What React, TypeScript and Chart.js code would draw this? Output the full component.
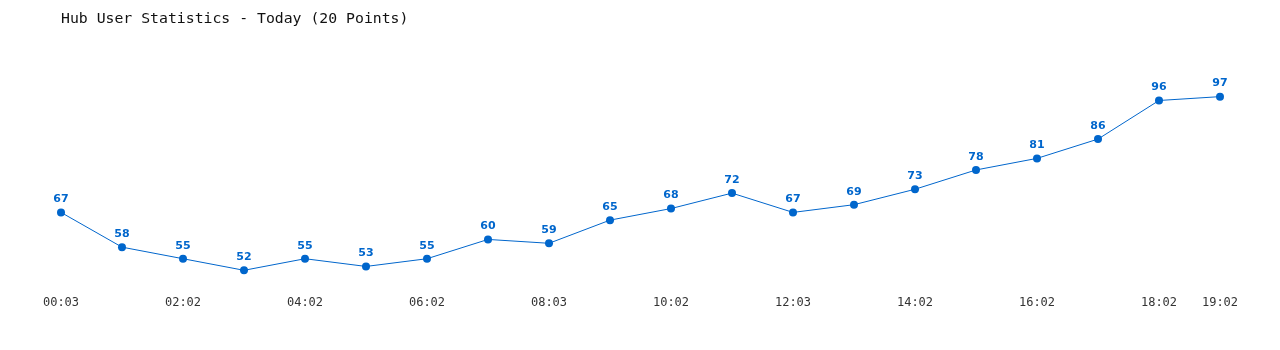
import React, { useEffect, useRef } from "react";
import { Chart, registerables } from "chart.js";

Chart.register(...registerables);

const categories = [
  "00:03", "01:02", "02:02", "03:02", "04:02", "05:02", "06:02", "07:02", "08:03", "09:02",
  "10:02", "11:02", "12:03", "13:02", "14:02", "15:02", "16:02", "17:02", "18:02", "19:02",
];
const users = [67, 58, 55, 52, 55, 53, 55, 60, 59, 65, 68, 72, 67, 69, 73, 78, 81, 86, 96, 97];
const shownTickIndexes = [0, 2, 4, 6, 8, 10, 12, 14, 16, 18, 19];

const BLUE = "#0066cc";

const valueLabels = {
  id: "valueLabels",
  afterDatasetsDraw(chart: any) {
    const ctx = chart.ctx;
    const meta = chart.getDatasetMeta(0);
    ctx.save();
    ctx.font = "bold 11px 'DejaVu Sans'";
    ctx.fillStyle = BLUE;
    ctx.textAlign = "center";
    ctx.textBaseline = "middle";
    meta.data.forEach((pt: any, i: number) => {
      ctx.fillText(String(users[i]), pt.x, pt.y - 13);
    });
    ctx.restore();
  },
};

export default function App() {
  const ref = useRef<HTMLCanvasElement>(null);
  useEffect(() => {
    if (!ref.current) return;
    const chart = new Chart(ref.current, {
      type: "line",
      data: {
        labels: categories,
        datasets: [
          {
            data: users,
            borderColor: BLUE,
            backgroundColor: BLUE,
            borderWidth: 1,
            pointRadius: 4,
            pointBackgroundColor: BLUE,
            pointBorderColor: BLUE,
            pointBorderWidth: 0,
            tension: 0,
            fill: false,
          },
        ],
      },
      options: {
        animation: false,
        responsive: true,
        maintainAspectRatio: false,
        layout: { padding: { left: 53, right: 52, top: 0, bottom: 26 } },
        plugins: {
          legend: { display: false },
          tooltip: { enabled: false },
          title: {
            display: true,
            text: "Hub User Statistics - Today (20 Points)",
            align: "start",
            color: "#111",
            font: { family: "'DejaVu Sans Mono'", size: 14.8, weight: "normal" },
            padding: { top: 2, bottom: 38 },
          },
        },
        scales: {
          x: {
            offset: false,
            grid: { display: false, drawTicks: false },
            border: { display: false },
            ticks: {
              autoSkip: false,
              maxRotation: 0,
              padding: 6,
              color: "#333",
              font: { family: "'DejaVu Sans Mono'", size: 12 },
              callback: (_v: any, i: number) => (shownTickIndexes.includes(i) ? categories[i] : ""),
            },
          },
          y: {
            display: false,
            min: 47,
            max: 105,
          },
        },
      },
      plugins: [valueLabels],
    });
    return () => chart.destroy();
  }, []);
  return (
    <div style={{ width: 1264, height: 334, position: "relative" }}>
      <canvas ref={ref} />
    </div>
  );
}
